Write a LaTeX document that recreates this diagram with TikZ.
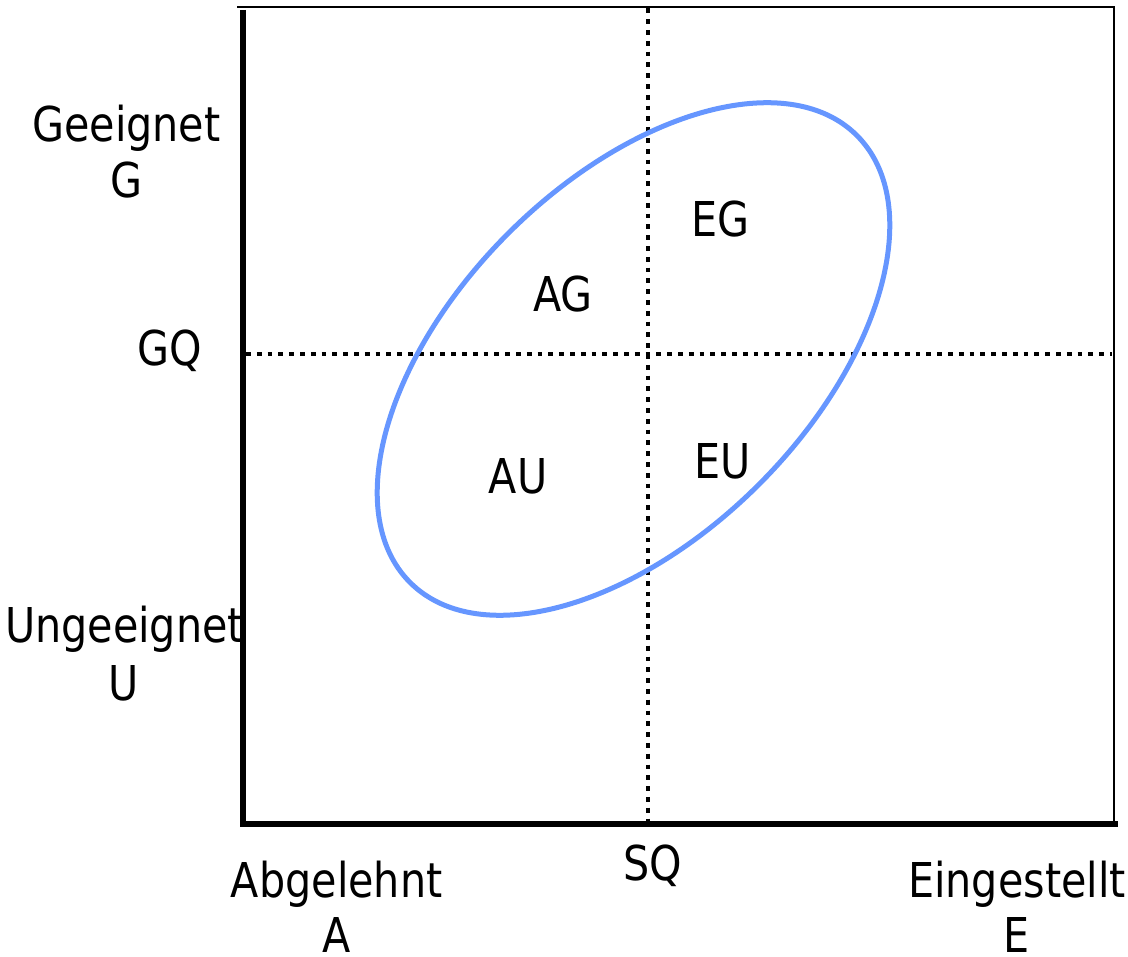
\documentclass[tikz,border=0pt]{standalone}
\usepackage{fontspec}
\setmainfont{DejaVu Sans}[FakeStretch=0.86]
\definecolor{ellblue}{RGB}{102,150,255}
\begin{document}
\begin{tikzpicture}[x=1pt,y=1pt,
  lbl/.style={anchor=base,inner sep=0pt,font=\fontsize{48}{57}\selectfont},
  thinframe/.style={line width=2.5pt,black},
  axisline/.style={line width=5.5pt,black},
  dotline/.style={line width=4.8pt,dash pattern=on 4.8pt off 6pt,black},
  oval/.style={line width=5pt,ellblue}]
\useasboundingbox (0,0) rectangle (1128,-957);
% frame coordinates
\coordinate (tl) at (237,-7);
\coordinate (tr) at (1114,-7);
\coordinate (br) at (1114,-826);
\coordinate (ltop) at (243,-10);
\coordinate (lbot) at (243,-827);
\coordinate (bleft) at (240,-824);
\coordinate (bright) at (1118,-824);
\coordinate (vtop) at (648,-8.5);
\coordinate (vbot) at (648,-822);
\coordinate (hleft) at (246,-354);
\coordinate (hright) at (1112,-354);
\coordinate (c) at (633.5,-359);
% frame
\draw[thinframe] (tl) -- (tr) -- (br);
\draw[axisline] (ltop) -- (lbot);
\draw[axisline] (bleft) -- (bright);
% dotted lines
\draw[dotline] (vtop) -- (vbot);
\draw[dotline] (hleft) -- (hright);
% ellipse
\draw[oval,rotate around={45:(c)}] (c) ellipse [x radius=316, y radius=177.4];
% labels
\node[lbl] (geeignet) at (126.4,-142) {Geeignet};
\node[lbl] (g) at (126,-198) {G};
\node[lbl] (gq) at (169.5,-366) {GQ};
\node[lbl] (ungeeignet) at (124.5,-642) {Ungeeignet};
\node[lbl] (u) at (124,-700) {U};
\node[lbl] (abgelehnt) at (336.7,-897) {Abgelehnt};
\node[lbl] (a) at (336.7,-952) {A};
\node[lbl] (sq) at (652.7,-880) {SQ};
\node[lbl] (eingestellt) at (1017,-897) {Eingestellt};
\node[lbl] (e) at (1017,-952) {E};
\node[lbl] (ag) at (563,-312) {AG};
\node[lbl] (eg) at (720.5,-237) {EG};
\node[lbl] (au) at (518,-494) {AU};
\node[lbl] (eu) at (723,-479) {EU};
\end{tikzpicture}
\end{document}
